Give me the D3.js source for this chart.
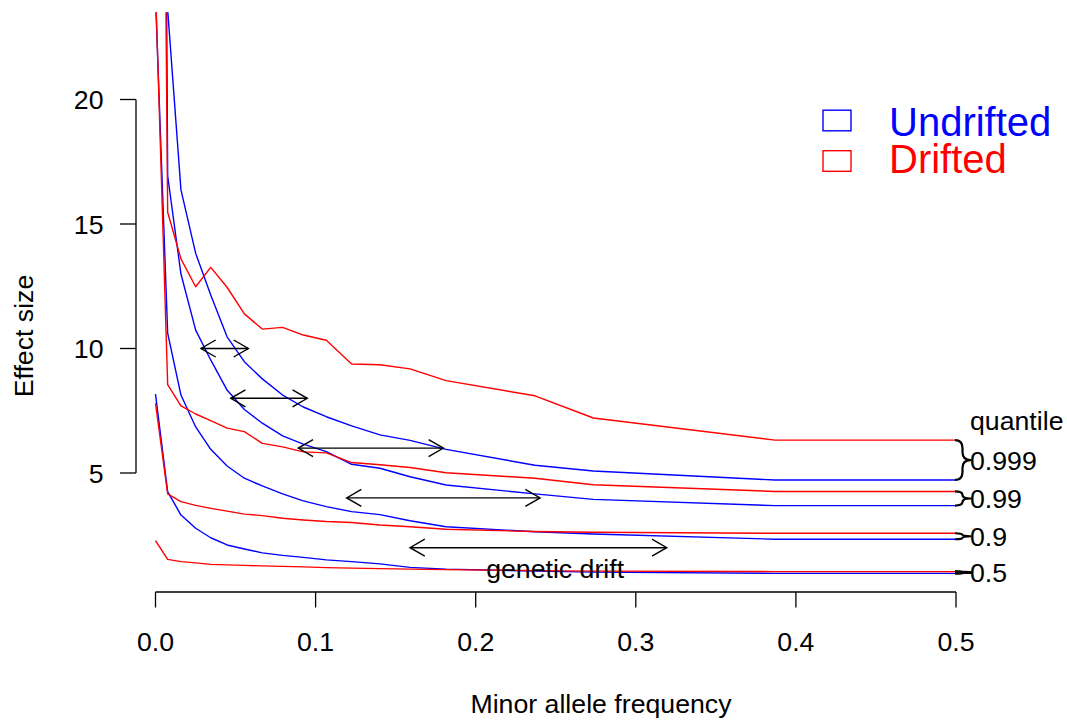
<!DOCTYPE html>
<html>
<head>
<meta charset="utf-8">
<script src="https://cdn.jsdelivr.net/npm/d3@7"></script>
<style>
  html, body { margin: 0; padding: 0; background: #fff; }
  svg { display: block; }
  text { font-family: "Liberation Sans", Arial, Helvetica, sans-serif; }
</style>
</head>
<body>
<svg id="chart" width="1067" height="721"></svg>
<script>
// ---------------- data ----------------
const maf = [0, 0.0076, 0.0159, 0.0251, 0.0345, 0.0447, 0.0555, 0.0667, 0.0794, 0.0923,
             0.1067, 0.1225, 0.1402, 0.1590, 0.1815, 0.2370, 0.2735, 0.3869, 0.5];

const undrifted999 = [150, 23.6, 16.37, 13.82, 12.15, 10.47, 9.47, 8.78, 8.13, 7.65,
                      7.26, 6.89, 6.53, 6.31, 5.95, 5.31, 5.08, 4.72, 4.72];
const undrifted99  = [97, 16.93, 12.99, 10.74, 9.54, 8.33, 7.55, 7.00, 6.49, 6.16,
                      5.86, 5.35, 5.19, 4.85, 4.52, 4.16, 3.94, 3.69, 3.69];
const undrifted9   = [24.1, 10.62, 8.13, 6.85, 5.95, 5.28, 4.79, 4.48, 4.16, 3.88,
                      3.65, 3.45, 3.33, 3.08, 2.84, 2.64, 2.55, 2.34, 2.34];
const undrifted5   = [8.17, 4.25, 3.31, 2.78, 2.40, 2.11, 1.95, 1.79, 1.69, 1.61,
                      1.51, 1.44, 1.35, 1.21, 1.14, 1.06, 1.02, 0.97, 0.97];

const drifted999 = [73, 15.47, 13.60, 12.48, 13.26, 12.46, 11.39, 10.78, 10.85, 10.54,
                    10.33, 9.38, 9.35, 9.18, 8.71, 8.10, 7.21, 6.32, 6.32];
const drifted99  = [24.55, 8.55, 7.70, 7.37, 7.10, 6.80, 6.66, 6.19, 6.05, 5.85,
                    5.81, 5.42, 5.33, 5.22, 5.01, 4.79, 4.53, 4.26, 4.26];
const drifted9   = [7.80, 4.16, 3.85, 3.70, 3.58, 3.47, 3.35, 3.29, 3.18, 3.11,
                    3.05, 3.01, 2.91, 2.84, 2.74, 2.65, 2.62, 2.58, 2.58];
const drifted5   = [2.28, 1.53, 1.44, 1.39, 1.33, 1.31, 1.29, 1.27, 1.25, 1.23,
                    1.20, 1.18, 1.16, 1.14, 1.12, 1.08, 1.06, 1.04, 1.04];

const quantileLabels = ["0.999", "0.99", "0.9", "0.5"];
const xTicks = [0, 0.1, 0.2, 0.3, 0.4, 0.5];
const yTicks = [5, 10, 15, 20];
const legendLabels = ["Undrifted", "Drifted"];
const legendColors = ["#0000FF", "#FF0000"];

// drift arrows (two-headed)
const arrowY  = [10, 8, 6, 4, 2];
const arrowX0 = [0.0284, 0.0470, 0.0892, 0.1194, 0.1590];
const arrowX1 = [0.0580, 0.0948, 0.1798, 0.2402, 0.3193];

// ---------------- layout ----------------
const svg = d3.select("#chart");
const W = 1067, H = 721;
const FS = 26.7;
const plot = { left: 136, right: 1066, top: 12.3, bottom: 592 };

const x = d3.scaleLinear().domain([0, 0.5]).range([155.5, 956]);
const y = d3.scaleLinear().domain([5, 20]).range([473, 99.5]);

svg.append("rect").attr("width", W).attr("height", H).attr("fill", "#fff");

svg.append("defs").append("clipPath").attr("id", "clip")
  .append("rect")
  .attr("x", plot.left).attr("y", plot.top)
  .attr("width", plot.right - plot.left).attr("height", plot.bottom - plot.top);

const g = svg.append("g").attr("clip-path", "url(#clip)");

const line = d3.line().x((d, i) => x(maf[i])).y(d => y(d));

const series = [
  { v: undrifted999, c: "#0000FF" },
  { v: undrifted99,  c: "#0000FF" },
  { v: undrifted9,   c: "#0000FF" },
  { v: undrifted5,   c: "#0000FF" },
  { v: drifted999,   c: "#FF0000" },
  { v: drifted99,    c: "#FF0000" },
  { v: drifted9,     c: "#FF0000" },
  { v: drifted5,     c: "#FF0000" }
];

series.forEach(s => {
  g.append("path").datum(s.v)
    .attr("d", line)
    .attr("fill", "none")
    .attr("stroke", s.c)
    .attr("stroke-width", 1.4)
    .attr("stroke-linejoin", "round");
});

// ---------------- arrows ----------------
const headLen = 17, headAng = Math.PI / 6;
arrowY.forEach((yy, i) => {
  const xa = x(arrowX0[i]), xb = x(arrowX1[i]), yp = y(yy);
  const ga = svg.append("g").attr("stroke", "#000").attr("stroke-width", 1.4).attr("fill", "none");
  ga.append("line").attr("x1", xa).attr("x2", xb).attr("y1", yp).attr("y2", yp);
  const dx = headLen * Math.cos(headAng), dy = headLen * Math.sin(headAng);
  ga.append("path").attr("d", `M${xa + dx},${yp - dy}L${xa},${yp}L${xa + dx},${yp + dy}`);
  ga.append("path").attr("d", `M${xb - dx},${yp - dy}L${xb},${yp}L${xb - dx},${yp + dy}`);
});

svg.append("text")
  .attr("x", x(0.2496)).attr("y", y(1.17))
  .attr("dy", "0.358em")
  .attr("text-anchor", "middle")
  .attr("font-size", FS)
  .attr("fill", "#000")
  .text("genetic drift");

// ---------------- axes ----------------
const xAxisY = 592;
const xg = svg.append("g").attr("stroke", "#000").attr("stroke-width", 1.3);
xg.append("line").attr("x1", x(0)).attr("x2", x(0.5)).attr("y1", xAxisY).attr("y2", xAxisY);
xTicks.forEach(t => {
  xg.append("line").attr("x1", x(t)).attr("x2", x(t)).attr("y1", xAxisY).attr("y2", xAxisY + 15.5);
});
svg.selectAll(".xtl").data(xTicks).enter().append("text")
  .attr("x", d => x(d)).attr("y", 651)
  .attr("text-anchor", "middle").attr("font-size", FS).attr("fill", "#000")
  .text(d => d3.format(".1f")(d));

const yAxisX = 136;
const yg = svg.append("g").attr("stroke", "#000").attr("stroke-width", 1.3);
yg.append("line").attr("x1", yAxisX).attr("x2", yAxisX).attr("y1", y(20)).attr("y2", y(5));
yTicks.forEach(t => {
  yg.append("line").attr("x1", yAxisX - 16).attr("x2", yAxisX).attr("y1", y(t)).attr("y2", y(t));
});
svg.selectAll(".ytl").data(yTicks).enter().append("text")
  .attr("x", 103.5).attr("y", d => y(d))
  .attr("dy", "0.358em")
  .attr("text-anchor", "end").attr("font-size", FS).attr("fill", "#000")
  .text(d => d);

svg.append("text")
  .attr("x", 601).attr("y", 713)
  .attr("text-anchor", "middle").attr("font-size", FS).attr("fill", "#000")
  .text("Minor allele frequency");

svg.append("text")
  .attr("transform", "translate(33.3,336) rotate(-90)")
  .attr("text-anchor", "middle").attr("font-size", FS).attr("fill", "#000")
  .text("Effect size");

// ---------------- legend ----------------
legendLabels.forEach((lab, i) => {
  const cy = [120.5, 161][i];
  svg.append("rect")
    .attr("x", 823).attr("y", cy - 10.3).attr("width", 28).attr("height", 20.6)
    .attr("fill", "#fff").attr("stroke", legendColors[i]).attr("stroke-width", 1.4);
  svg.append("text")
    .attr("x", 889).attr("y", [135.7, 173.3][i])
    .attr("font-size", 40).attr("fill", legendColors[i])
    .text(lab);
});

// ---------------- quantile braces & labels ----------------
const pairs = [
  [drifted999, undrifted999],
  [drifted99, undrifted99],
  [drifted9, undrifted9],
  [drifted5, undrifted5]
];
const last = maf.length - 1;
const x0 = x(0.5) - 1;
pairs.forEach((p, i) => {
  const y1 = y(p[0][last]), y2 = y(p[1][last]);
  const top = Math.min(y1, y2), bot = Math.max(y1, y2);
  const h = bot - top, mid = (top + bot) / 2;
  const xm = x0 + 7.5, xt = x0 + 15.5;
  const r = Math.min(8, h / 4);
  const d = `M${x0},${top}Q${xm},${top} ${xm},${top + r}L${xm},${mid - r}` +
            `Q${xm},${mid} ${xt},${mid}Q${xm},${mid} ${xm},${mid + r}` +
            `L${xm},${bot - r}Q${xm},${bot} ${x0},${bot}`;
  svg.append("path").attr("d", d).attr("fill", "none")
    .attr("stroke", "#000").attr("stroke-width", h < 4 ? 3 : 2.2)
    .attr("stroke-linejoin", "round");
  svg.append("text")
    .attr("x", 970).attr("y", y((p[0][last] + p[1][last]) / 2))
    .attr("dy", "0.358em")
    .attr("font-size", FS).attr("fill", "#000")
    .text(quantileLabels[i]);
});

svg.append("text")
  .attr("x", 970).attr("y", y(7.11))
  .attr("dy", "0.358em")
  .attr("font-size", FS).attr("fill", "#000")
  .text("quantile");
</script>
</body>
</html>
